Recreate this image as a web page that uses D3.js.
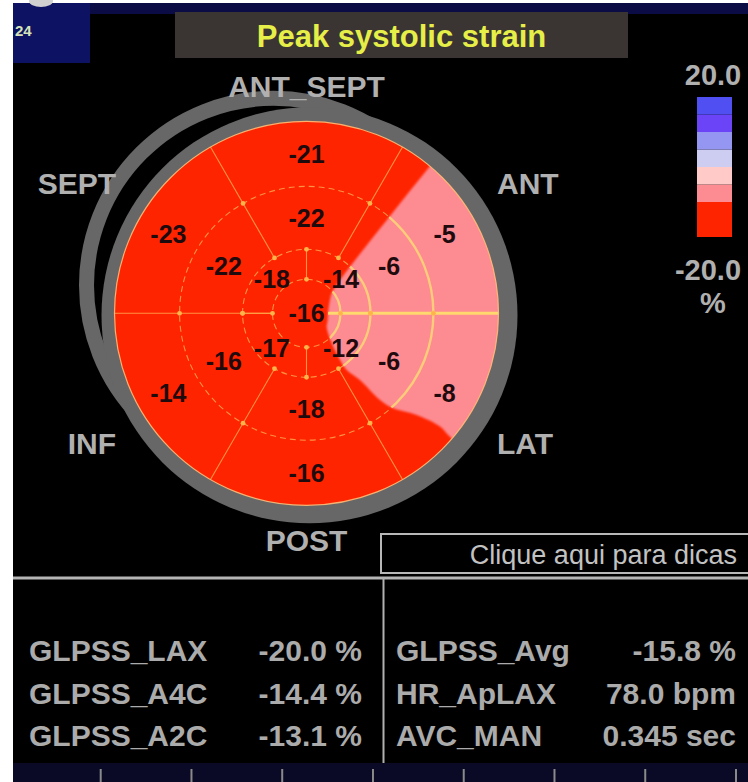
<!DOCTYPE html>
<html><head><meta charset="utf-8">
<script src="https://cdn.jsdelivr.net/npm/d3@7"></script>
<style>
html,body{margin:0;padding:0;background:#fff;}
svg{display:block;}
text{font-family:"Liberation Sans",Arial,Helvetica,sans-serif;}
</style>
</head><body>
<svg id="c" width="748" height="782"></svg>
<script>
// ---------------- DATA ----------------
const wallNames = ["ANT_SEPT", "ANT", "LAT", "POST", "INF", "SEPT"];      // clockwise from 12 o'clock
const basalStrain = [-21, -5, -8, -16, -14, -23];
const midStrain = [-22, -6, -6, -18, -16, -22];
const apicalStrain = [-14, -12, -17, -18];   // quadrants clockwise from 12 o'clock
const apexStrain = [-16];
const colorDomain = [-20, 20];
const colorThresholds = [-10, -5, 0, 5, 10, 15];
const colorPalette = ["#ff2400", "#fd8b92", "#ffcac8", "#cdcdf2", "#9595f2", "#6a44f6", "#5050f2"];
const isoLevel = -10;
// -10 % iso-line of the interpolated strain map: angle (deg, clockwise from 12 o'clock), radius (fraction)
const isoAngle  = [40, 40.7, 43, 45.2, 51.1, 70, 90, 110, 123.6, 139.7, 144.3, 144.7, 141.3, 139.7, 137.6, 132.7, 130.3, 130.7];
const isoRadius = [1.0, 0.653, 0.332, 0.246, 0.169, 0.125, 0.112, 0.117, 0.126, 0.203, 0.30, 0.362, 0.445, 0.592, 0.670, 0.781, 0.912, 0.986];
const globalLabels = ["GLPSS_LAX", "GLPSS_A4C", "GLPSS_A2C"];
const globalValues = ["-20.0 %", "-14.4 %", "-13.1 %"];
const summaryLabels = ["GLPSS_Avg", "HR_ApLAX", "AVC_MAN"];
const summaryValues = ["-15.8 %", "78.0 bpm", "0.345 sec"];
const titleText = "Peak systolic strain";
const hintText = "Clique aqui para dicas";
const frameText = "24";
const timeTicks = [0, 1, 2, 3, 4, 5, 6, 7];

// ---------------- LAYOUT ----------------
const W = 748, H = 782;
const cx = 306.5, cy = 313.3, R = 192;
const ringBounds = [0, 0.177, 0.333, 0.661, 1];   // apex | apical | mid | basal
const rScale = d3.scaleLinear().domain([0, 1]).range([0, R]);
const colorScale = d3.scaleThreshold().domain(colorThresholds).range(colorPalette);
const loc = d3.formatLocale({decimal: ".", thousands: ",", grouping: [3], currency: ["", ""], minus: "-"});
const fmtInt = loc.format("d"), fmt1 = loc.format(".1f");
const rad = d => d * Math.PI / 180;

const svg = d3.select("#c");
const defs = svg.append("defs");

// page background / frame
svg.append("rect").attr("width", W).attr("height", H).attr("fill", "#fff");
svg.append("rect").attr("x", 13).attr("y", 3).attr("width", W - 13).attr("height", H - 3).attr("fill", "#000");
svg.append("rect").attr("x", 13).attr("y", 3).attr("width", W - 13).attr("height", 11).attr("fill", "#0b0b45");
svg.append("rect").attr("x", 13).attr("y", 3).attr("width", 77).attr("height", 60).attr("fill", "#0e1262");
svg.append("ellipse").attr("cx", 41).attr("cy", 1).attr("rx", 12).attr("ry", 6).attr("fill", "#d0d0d0");
svg.append("text").attr("x", 15).attr("y", 36).attr("font-size", 15).attr("font-weight", "bold")
  .attr("fill", "#d5e3b8").text(frameText);

// title
svg.append("rect").attr("x", 175).attr("y", 12).attr("width", 453).attr("height", 46).attr("fill", "#3a3532");
svg.append("text").attr("x", 401.5).attr("y", 47).attr("text-anchor", "middle")
  .attr("font-size", 31).attr("font-weight", "bold").attr("fill", "#e6ee48").text(titleText);

// ---------------- BULL'S EYE ----------------
const g = svg.append("g").attr("transform", `translate(${cx},${cy})`);

defs.append("clipPath").attr("id", "disc").append("circle").attr("r", rScale(1));
defs.append("filter").attr("id", "soft").append("feGaussianBlur").attr("stdDeviation", 1.2);

// outer gray crescent + ring
g.append("circle").attr("cx", -33).attr("cy", -28).attr("r", 187)
  .attr("fill", "none").attr("stroke", "#676767").attr("stroke-width", 15);
g.append("circle").attr("cx", 3).attr("cy", 2).attr("r", 208).attr("fill", "#676767");

// base colour (strain below iso level)
const allValues = basalStrain.concat(midStrain, apicalStrain, apexStrain);
g.append("circle").attr("r", rScale(1)).attr("fill", colorScale(d3.min(allValues)));

// region above the iso level
const isoPts = isoAngle.map((a, i) => [rad(a), rScale(isoRadius[i])]);
const outerPts = [130, 85, 40].map(a => [rad(a), rScale(1.3)]);
const pinkPath = d3.lineRadial().curve(d3.curveCatmullRomClosed.alpha(0.5))(isoPts.concat(outerPts));
defs.append("clipPath").attr("id", "pinkclip").append("path").attr("d", pinkPath);
g.append("g").attr("clip-path", "url(#disc)")
  .append("path").attr("d", pinkPath).attr("fill", colorScale(isoLevel)).attr("filter", "url(#soft)");

// grid
const lineCol = "rgba(255,175,80,0.8)";
const grid = g.append("g").attr("fill", "none");
const nW = wallNames.length;
const wallBounds = d3.range(nW).map(i => (i + 0.5) * 360 / nW);
const apicalBounds = d3.range(apicalStrain.length).map(i => i * 360 / apicalStrain.length);
const radial = (a, r0, r1) => {
  const p0 = d3.pointRadial(rad(a), rScale(r0)), p1 = d3.pointRadial(rad(a), rScale(r1));
  return `M${p0}L${p1}`;
};
wallBounds.forEach(a => {
  const horiz = Math.abs(Math.sin(rad(a))) > 0.99;
  grid.append("path").attr("d", radial(a, horiz ? ringBounds[1] : ringBounds[2], 1))
    .attr("stroke", lineCol).attr("stroke-width", 1.1);
});
apicalBounds.forEach(a => {
  grid.append("path").attr("d", radial(a, ringBounds[1], ringBounds[2]))
    .attr("stroke", lineCol).attr("stroke-width", 1.1);
});
ringBounds.slice(1, 4).forEach(r => {
  grid.append("circle").attr("r", rScale(r)).attr("stroke", lineCol)
    .attr("stroke-width", 1.1).attr("stroke-dasharray", "6,4");
});
// brighter lines inside the iso region
const bright = g.append("g").attr("clip-path", "url(#pinkclip)").attr("fill", "none");
ringBounds.slice(1, 4).forEach(r => {
  bright.append("circle").attr("r", rScale(r)).attr("stroke", "rgba(255,214,120,0.85)").attr("stroke-width", 2.4);
});
wallBounds.forEach(a => {
  bright.append("path").attr("d", radial(a, 0.1, 1)).attr("stroke", "rgba(255,220,110,0.95)").attr("stroke-width", 3);
});
g.append("circle").attr("r", rScale(1)).attr("fill", "none").attr("stroke", "rgba(255,190,120,0.9)").attr("stroke-width", 1.2);

// intersection dots
const dots = [];
wallBounds.forEach(a => [ringBounds[2], ringBounds[3]].forEach(r => dots.push([a, r])));
apicalBounds.forEach(a => [ringBounds[1], ringBounds[2]].forEach(r => dots.push([a, r])));
g.selectAll("circle.dot").data(dots).join("circle").attr("class", "dot")
  .attr("cx", d => d3.pointRadial(rad(d[0]), rScale(d[1]))[0])
  .attr("cy", d => d3.pointRadial(rad(d[0]), rScale(d[1]))[1])
  .attr("r", 2.4).attr("fill", "#ffb44a");

// value labels
const labelData = [];
basalStrain.forEach((v, i) => labelData.push({v, a: i * 360 / nW, r: (ringBounds[3] + ringBounds[4]) / 2}));
midStrain.forEach((v, i) => labelData.push({v, a: i * 360 / nW, r: (ringBounds[2] + ringBounds[3]) / 2}));
apicalStrain.forEach((v, i) => labelData.push({v, a: (i + 0.5) * 360 / apicalStrain.length, r: (ringBounds[1] + ringBounds[2]) / 2}));
apexStrain.forEach(v => labelData.push({v, a: 0, r: 0}));
g.selectAll("text.val").data(labelData).join("text").attr("class", "val")
  .attr("x", d => d3.pointRadial(rad(d.a), rScale(d.r))[0])
  .attr("y", d => d3.pointRadial(rad(d.a), rScale(d.r))[1])
  .attr("dy", "0.36em").attr("text-anchor", "middle")
  .attr("font-size", 25).attr("font-weight", "bold").attr("fill", "#1f0a0e")
  .text(d => fmtInt(d.v));

// wall labels
const wallLabelRx = 190.5, wallLabelRyTop = 227, wallLabelRySide = 130;
g.selectAll("text.wall").data(wallNames).join("text").attr("class", "wall")
  .attr("x", (d, i) => { const s = Math.sin(rad(i * 60)); return Math.abs(s) < 0.1 ? 0 : Math.sign(s) * wallLabelRx; })
  .attr("y", (d, i) => { const c = Math.cos(rad(i * 60)); return Math.abs(c) > 0.9 ? -Math.sign(c) * wallLabelRyTop : -Math.sign(c) * wallLabelRySide; })
  .attr("dy", "0.36em")
  .attr("text-anchor", (d, i) => { const s = Math.sin(rad(i * 60)); return Math.abs(s) < 0.1 ? "middle" : (s > 0 ? "start" : "end"); })
  .attr("font-size", 30).attr("font-weight", "bold").attr("fill", "#b0b0b0")
  .text(d => d);

// ---------------- COLOUR BAR ----------------
const cbY = d3.scaleLinear().domain([colorDomain[1], colorDomain[0]]).range([97, 237]);
const bandEdges = [colorDomain[0]].concat(colorThresholds, [colorDomain[1]]);
svg.selectAll("rect.band").data(d3.pairs(bandEdges)).join("rect").attr("class", "band")
  .attr("x", 697).attr("width", 35)
  .attr("y", d => cbY(d[1])).attr("height", d => cbY(d[0]) - cbY(d[1]))
  .attr("fill", d => colorScale((d[0] + d[1]) / 2));
svg.append("text").attr("x", 713).attr("y", 85).attr("text-anchor", "middle")
  .attr("font-size", 29).attr("font-weight", "bold").attr("fill", "#b0b0b0").text(fmt1(colorDomain[1]));
svg.append("text").attr("x", 708).attr("y", 280).attr("text-anchor", "middle")
  .attr("font-size", 29).attr("font-weight", "bold").attr("fill", "#b0b0b0").text(fmt1(colorDomain[0]));
svg.append("text").attr("x", 713).attr("y", 313).attr("text-anchor", "middle")
  .attr("font-size", 29).attr("font-weight", "bold").attr("fill", "#b0b0b0").text("%");

// ---------------- BOTTOM PANEL ----------------
svg.append("rect").attr("x", 381).attr("y", 534).attr("width", 400).attr("height", 39)
  .attr("fill", "none").attr("stroke", "#b8b8b8").attr("stroke-width", 2);
svg.append("text").attr("x", 737).attr("y", 564).attr("text-anchor", "end")
  .attr("font-size", 27).attr("fill", "#c2c2c2").text(hintText);
svg.append("line").attr("x1", 13).attr("x2", W).attr("y1", 578).attr("y2", 578)
  .attr("stroke", "#b5b5b5").attr("stroke-width", 3);
svg.append("line").attr("x1", 383.5).attr("x2", 383.5).attr("y1", 578).attr("y2", 763)
  .attr("stroke", "#b0b0b0").attr("stroke-width", 2);

const rowY = d3.scalePoint().domain(d3.range(globalLabels.length)).range([661, 746]);
const txtCol = "#ababab";
const addRow = (labels, values, xl, xr) => {
  labels.forEach((l, i) => {
    svg.append("text").attr("x", xl).attr("y", rowY(i)).attr("font-size", 30).attr("font-weight", "bold")
      .attr("fill", txtCol).text(l);
    svg.append("text").attr("x", xr).attr("y", rowY(i)).attr("text-anchor", "end").attr("font-size", 30)
      .attr("font-weight", "bold").attr("fill", txtCol).text(values[i]);
  });
};
addRow(globalLabels, globalValues, 29, 362);
addRow(summaryLabels, summaryValues, 396, 736);

svg.append("rect").attr("x", 13).attr("y", 763).attr("width", W - 13).attr("height", 19).attr("fill", "#0a0a26");
const tickX = d3.scaleLinear().domain([0, 7]).range([100.7, 736]);
svg.selectAll("line.tk").data(timeTicks).join("line").attr("class", "tk")
  .attr("x1", d => tickX(d)).attr("x2", d => tickX(d)).attr("y1", 769).attr("y2", 782)
  .attr("stroke", "#8a8a8a").attr("stroke-width", 2);
</script>
</body></html>
